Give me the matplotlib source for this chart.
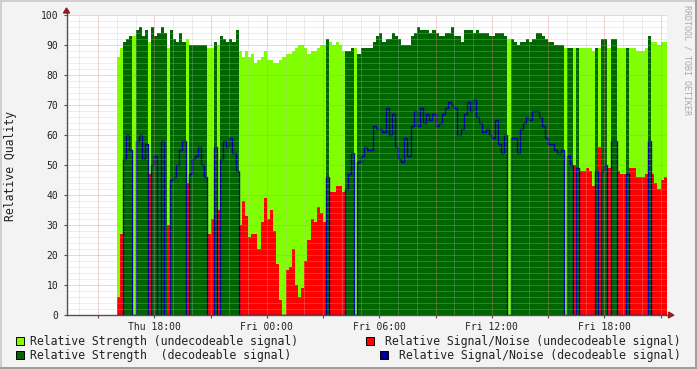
import numpy as np
import matplotlib
matplotlib.use('Agg')
import matplotlib.pyplot as plt
from matplotlib.patches import Rectangle, Polygon
from matplotlib.lines import Line2D

plt.rcParams['font.family'] = ['DejaVu Sans Mono']

# samples every 10 minutes, starting Thu 16:00 (hours counted from Thu 00:00)
start_hour = 16.0
step_hours = 10 / 60

# 1 = signal could be decoded, 0 = undecodeable
decoded = [0, 0, 1, 1, 1, 0, 1, 1, 1, 1, 0, 1, 1, 1, 1, 1, 0, 1, 1, 1,
           1, 1, 0, 1, 1, 1, 1, 1, 1, 0, 0, 1, 0, 1, 1, 1, 1, 1, 1, 0,
           0, 0, 0, 0, 0, 0, 0, 0, 0, 0, 0, 0, 0, 0, 0, 0, 0, 0, 0, 0,
           0, 0, 0, 0, 0, 0, 0, 1, 0, 0, 0, 0, 0, 1, 1, 1, 0, 1, 1, 1,
           1, 1, 1, 1, 1, 1, 1, 1, 1, 1, 1, 1, 1, 1, 1, 1, 1, 1, 1, 1,
           1, 1, 1, 1, 1, 1, 1, 1, 1, 1, 1, 1, 1, 1, 1, 1, 1, 1, 1, 1,
           1, 1, 1, 1, 1, 0, 1, 1, 1, 1, 1, 1, 1, 1, 1, 1, 1, 1, 1, 1,
           1, 1, 1, 0, 1, 1, 0, 1, 0, 0, 0, 0, 0, 1, 0, 1, 1, 0, 1, 1,
           0, 0, 0, 1, 0, 0, 0, 0, 0, 0, 1, 0, 0, 0, 0, 0]

strength = [86, 89, 91, 92, 93, 93, 95, 96, 93, 95, 91, 96, 93, 94, 96, 94, 89, 95, 92, 91,
            94, 91, 92, 90, 90, 90, 90, 90, 90, 89, 89, 91, 90, 93, 92, 91, 92, 91, 95, 88,
            86, 88, 86, 87, 84, 85, 86, 88, 85, 85, 84, 84, 85, 86, 87, 87, 88, 89, 90, 90,
            89, 87, 88, 88, 89, 90, 90, 92, 91, 90, 91, 90, 88, 88, 88, 89, 89, 87, 89, 89,
            89, 89, 91, 93, 94, 91, 92, 92, 94, 93, 92, 90, 90, 90, 93, 94, 96, 95, 95, 95,
            94, 95, 94, 93, 93, 94, 94, 96, 93, 93, 91, 95, 95, 95, 94, 95, 94, 94, 94, 93,
            93, 94, 94, 94, 93, 92, 92, 91, 90, 91, 91, 92, 91, 92, 94, 94, 93, 92, 91, 91,
            90, 90, 90, 89, 89, 89, 89, 89, 89, 89, 89, 89, 88, 89, 89, 92, 92, 89, 92, 92,
            89, 89, 89, 89, 89, 89, 88, 88, 88, 89, 93, 91, 91, 90, 91, 91]

snr = [6, 27, 52, 60, 55, 0, 58, 60, 52, 57, 47, 50, 53, 0, 58, 0, 30, 45, 46, 50,
       55, 58, 44, 47, 52, 53, 56, 50, 46, 27, 32, 56, 35, 52, 58, 56, 59, 54, 48, 30,
       38, 33, 26, 27, 27, 22, 31, 39, 32, 35, 28, 17, 5, 0, 15, 16, 22, 10, 6, 9,
       18, 25, 32, 31, 36, 34, 31, 46, 41, 41, 43, 43, 41, 42, 47, 54, 0, 51, 53, 56,
       55, 55, 63, 62, 62, 61, 69, 60, 67, 56, 52, 51, 59, 53, 63, 68, 63, 69, 64, 67,
       65, 67, 63, 64, 67, 69, 71, 70, 69, 60, 62, 67, 71, 68, 72, 66, 64, 61, 62, 60,
       59, 65, 57, 54, 60, 0, 59, 59, 54, 62, 64, 66, 65, 68, 68, 66, 63, 59, 57, 57,
       55, 54, 55, 0, 53, 50, 50, 49, 48, 48, 49, 48, 43, 48, 56, 48, 50, 49, 58, 58,
       48, 47, 47, 47, 49, 49, 46, 46, 46, 47, 58, 47, 44, 42, 45, 46]

tick_hours = [18, 24, 30, 36, 42]
tick_labels = ['Thu 18:00', 'Fri 00:00', 'Fri 06:00', 'Fri 12:00', 'Fri 18:00']

c_light = '#7FFF00'
c_dark = '#006600'
c_red = '#FF0000'
c_blue = '#000099'

W, H = 697, 369
fig = plt.figure(figsize=(W / 100, H / 100), dpi=100, facecolor='#F3F3F3')

# plot area: x 66.5..666.5 px, y 15..315 px
ax = fig.add_axes([66.5 / W, (H - 315) / H, 600 / W, 300 / H])
ax.set_facecolor('white')
x0 = 18 - (154.3 - 66.5) / 18.75
ax.set_xlim(x0, x0 + 32)
ax.set_ylim(0, 100)
for sp in ax.spines.values():
    sp.set_visible(False)

dec = np.array(decoded, dtype=bool)
s = np.array(strength, dtype=float)
n = np.array(snr, dtype=float)
edges = start_hour + step_hours * np.arange(len(s) + 1)

ax.stairs(s, edges, fill=True, color=c_light, lw=0, zorder=1)
ax.stairs(np.where(dec, s, 0), edges, fill=True, color=c_dark, lw=0, zorder=1.1)
ax.stairs(np.where(dec, 0, n), edges, fill=True, color=c_red, lw=0, zorder=1.2)
ax.stairs(np.where(dec, n, 0), edges, baseline=None, color=c_blue, lw=1.0, zorder=2)

# rrdtool style dotted grid, drawn over the data
dot = (0, (1, 1))
hours = np.arange(14, 46)
ax.vlines([h for h in hours if h % 3], 0, 100, colors='#C0C0C0', alpha=0.55,
          linestyles=dot, lw=0.72, zorder=3)
ax.vlines([h for h in hours if h % 3 == 0], 0, 100, colors='#E08080', alpha=0.7,
          linestyles=dot, lw=0.72, zorder=3)
ax.hlines([v for v in range(2, 100, 2) if v % 10], x0, x0 + 32, colors='#C0C0C0',
          alpha=0.55, linestyles=dot, lw=0.72, zorder=3)
ax.hlines(range(10, 101, 10), x0, x0 + 32, colors='#E08080', alpha=0.7,
          linestyles=dot, lw=0.72, zorder=3)

# axes lines with arrows
px_h = 1 / 18.75
px_v = 1 / 3
ax.plot([x0, x0 + 32 + 6 * px_h], [0, 0], color='#505050', lw=1, clip_on=False, zorder=4)
ax.plot([x0, x0], [0, 100 + 5 * px_v], color='#505050', lw=1, clip_on=False, zorder=4)
ax.add_patch(Polygon([[x0 + 32 + 2 * px_h, 3 * px_v], [x0 + 32 + 2 * px_h, -3 * px_v],
                      [x0 + 32 + 7 * px_h, 0]], closed=True, color='#9A1A1A',
                     clip_on=False, zorder=5))
ax.add_patch(Polygon([[x0 - 3 * px_h, 100 + 2 * px_v], [x0 + 3 * px_h, 100 + 2 * px_v],
                      [x0, 100 + 7 * px_v]], closed=True, color='#9A1A1A',
                     clip_on=False, zorder=5))

ax.set_yticks(range(0, 101, 10))
ax.set_xticks(range(15, 46, 3))
ax.set_xticklabels([tick_labels[tick_hours.index(h)] if h in tick_hours else ''
                    for h in range(15, 46, 3)])
ax.tick_params(axis='both', length=2, width=0.8, color='#505050', labelsize=7,
               labelcolor='#222222')
ax.tick_params(axis='y', pad=4)
ax.tick_params(axis='x', pad=3)

fig.text(10.5 / W, 1 - 166 / H, 'Relative Quality', rotation=90, ha='center',
         va='center', fontsize=8.3, color='#222222')
fig.text(687 / W, 1 - 60 / H, 'RRDTOOL / TOBI OETIKER', rotation=270, ha='center',
         va='center', fontsize=6, color='#AAAAAA')

# legend
def box(x, y, color):
    fig.add_artist(Rectangle((x / W, 1 - (y + 8) / H), 8 / W, 8 / H, facecolor=color,
                             edgecolor='black', lw=0.7, transform=fig.transFigure))

box(15.5, 337, c_light)
fig.text(30 / W, 1 - 341 / H, 'Relative Strength (undecodeable signal)', fontsize=8.3,
         va='center', color='#222222')
box(15.5, 351, c_dark)
fig.text(30 / W, 1 - 355 / H, 'Relative Strength  (decodeable signal)', fontsize=8.3,
         va='center', color='#222222')
box(365.5, 337, c_red)
fig.text(680.5 / W, 1 - 341 / H, 'Relative Signal/Noise (undecodeable signal)',
         fontsize=8.3, ha='right', va='center', color='#222222')
box(379.5, 351, c_blue)
fig.text(680.5 / W, 1 - 355 / H, 'Relative Signal/Noise (decodeable signal)',
         fontsize=8.3, ha='right', va='center', color='#222222')

# 3d-ish frame
fig.add_artist(Line2D([0, 1], [1 - 1 / H, 1 - 1 / H], color='#CFCFCF', lw=1.44,
                      transform=fig.transFigure))
fig.add_artist(Line2D([1 / W, 1 / W], [0, 1], color='#CFCFCF', lw=1.44,
                      transform=fig.transFigure))
fig.add_artist(Line2D([0, 1], [1 / H, 1 / H], color='#9E9E9E', lw=1.44,
                      transform=fig.transFigure))
fig.add_artist(Line2D([1 - 1 / W, 1 - 1 / W], [0, 1], color='#9E9E9E', lw=1.44,
                      transform=fig.transFigure))

fig.savefig('out.png', dpi=100, facecolor=fig.get_facecolor())
